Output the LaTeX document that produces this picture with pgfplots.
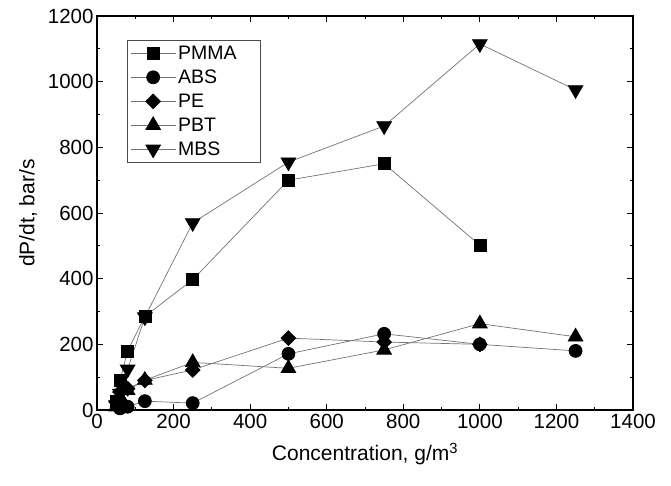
\documentclass[border=0pt]{standalone}
\usepackage{pgfplots}
\pgfplotsset{compat=1.18}
\usepackage{fontspec}
\setmainfont{Liberation Sans}
\begin{document}
\begin{tikzpicture}
\begin{axis}[
  scale only axis,
  width=536pt, height=394pt,
  xmin=0, xmax=1400, ymin=0, ymax=1200,
  xtick={0,200,...,1400}, ytick={0,200,...,1200},
  minor tick num=1,
  tick align=inside,
  major tick length=6pt, minor tick length=3.5pt,
  axis line style={line width=1.1pt},
  every tick/.style={black, line width=0.9pt},
  /pgf/number format/assume math mode=true,
  /pgf/number format/1000 sep={},
  tick label style={font=\fontsize{20.5pt}{24pt}\selectfont},
  xticklabel style={yshift=-1pt},
  xlabel={Concentration, g/m\textsuperscript{3}},
  ylabel={dP/dt, bar/s},
  label style={font=\fontsize{21pt}{24pt}\selectfont},
  xlabel style={yshift=-7pt},
  ylabel style={yshift=4pt},
  legend style={at={(0.056,0.939)}, anchor=north west, draw=black!70, line width=0.6pt,
     font=\fontsize{19.5pt}{22pt}\selectfont, row sep=5pt, inner xsep=3pt, inner ysep=3.5pt},
  legend cell align=left,
  legend image code/.code={\draw[mark repeat=2, mark phase=2, #1] plot coordinates {(0pt,0pt)(22.5pt,0pt)(45pt,0pt)};},
  every axis plot/.append style={color=black!55, line width=0.7pt},
]
\addplot[mark=square*, mark size=6pt, color=black!55, mark options={fill=black, draw=black, solid}] coordinates {(50,25)(60,90)(80,180)(125,285)(250,397)(500,700)(750,750)(1000,502)};
\addlegendentry{PMMA\hspace*{19pt}}
\addplot[mark=*, mark size=6.5pt, color=black!55, mark options={fill=black, draw=black, solid}] coordinates {(60,5)(80,10)(125,27)(250,21)(500,171)(750,232)(1000,200)(1250,180)};
\addlegendentry{ABS}
\addplot[mark=square*, mark size=5.2pt, color=black!55, mark options={rotate=45, fill=black, draw=black, solid}] coordinates {(50,25)(60,55)(80,65)(125,90)(250,122)(500,219)(750,207)(1000,200)};
\addlegendentry{PE}
\addplot[mark=triangle*, mark size=8.5pt, color=black!55, mark options={fill=black, draw=black, solid}] coordinates {(50,10)(60,40)(80,60)(125,91)(250,145)(500,127)(750,183)(1000,263)(1250,223)};
\addlegendentry{PBT}
\addplot[mark=triangle*, mark size=8.5pt, color=black!55, mark options={rotate=180, fill=black, draw=black, solid}] coordinates {(50,15)(60,50)(80,124)(125,283)(250,570)(500,755)(750,865)(1000,1115)(1250,975)};
\addlegendentry{MBS}
\end{axis}
\path (current axis.south west) ++(-97pt,-75pt) (current axis.north east) ++(38pt,16pt);
\end{tikzpicture}
\end{document}
